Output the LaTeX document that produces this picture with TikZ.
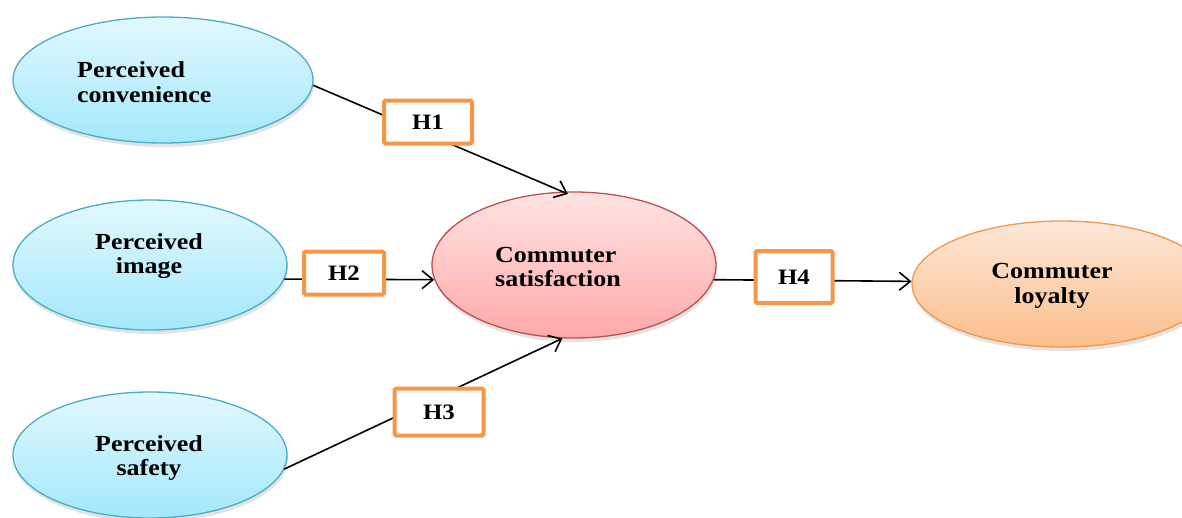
\documentclass[tikz,border=0pt]{standalone}
\usepackage{fontspec}
\setmainfont{Liberation Serif}[FakeStretch=1.13]
\usetikzlibrary{shadows,arrows.meta,shapes.geometric}
\definecolor{bluetop}{HTML}{E2F8FE}
\definecolor{bluebot}{HTML}{A3E8FB}
\definecolor{blueline}{HTML}{4BACC6}
\definecolor{redtop}{HTML}{FFE3E3}
\definecolor{redbot}{HTML}{FFA9A9}
\definecolor{redline}{HTML}{C0504D}
\definecolor{orgtop}{HTML}{FDE8D8}
\definecolor{orgbot}{HTML}{FBBF8C}
\definecolor{orgline}{HTML}{F79646}
\tikzset{
  ell/.style={ellipse, inner sep=0pt, line width=1.3pt,
    drop shadow={opacity=0.22, shadow xshift=1pt, shadow yshift=-4pt}},
  blueell/.style={ell, draw=blueline, top color=bluetop, bottom color=bluebot},
  redell/.style={ell, draw=redline, top color=redtop, bottom color=redbot},
  orgell/.style={ell, draw=orgline, top color=orgtop, bottom color=orgbot},
  lbl/.style={font=\bfseries\fontsize{23}{24.5}\selectfont, inner sep=0pt},
  hbox/.style={draw=orgline, line width=4pt, fill=white, rounded corners=1.5pt,
    font=\bfseries\fontsize{22}{24}\selectfont, inner sep=0pt},
  conn/.style={line width=1.6pt, black},
  arr/.style={conn, -{Straight Barb[length=11pt,width=18pt,line width=1.6pt]}},
}
\begin{document}
\begin{tikzpicture}[x=1pt,y=-1pt]
\useasboundingbox (0,0) rectangle (1182,517);
% ellipses
\node[blueell, minimum width=300pt, minimum height=126pt] (conv) at (163,80) {};
\node[blueell, minimum width=274pt, minimum height=130pt] (img) at (150,265) {};
\node[blueell, minimum width=274pt, minimum height=126pt] (safe) at (150,455) {};
\node[redell, minimum width=284pt, minimum height=146pt] (sat) at (574,265) {};
\node[orgell, minimum width=300pt, minimum height=126pt] (loy) at (1062,284) {};
% texts
\node[lbl, align=left, anchor=west] (tconv) at (77,82) {Perceived\\convenience};
\node[lbl, align=center] (timg) at (149,256) {Perceived\\image};
\node[lbl, align=center] (tsafe) at (149,458) {Perceived\\safety};
\node[lbl, align=left, anchor=west] (tsat) at (495,267) {Commuter\\satisfaction};
\node[lbl, align=center] (tloy) at (1052,286) {Commuter\\loyalty};
% connectors
\draw[arr, shorten >=-6pt] (conv.-2) -- (sat.99.6);
\draw[arr] (img.-6.7) -- (sat.186.4);
\draw[arr] (safe.-6.3) -- (sat.261.4);
\draw[arr] (sat.-6) -- (loy.179);
% hypothesis boxes
\node[hbox, minimum width=88pt, minimum height=43pt] (h1) at (428,122) {H1};
\node[hbox, minimum width=80pt, minimum height=43pt] (h2) at (344,273) {H2};
\node[hbox, minimum width=89pt, minimum height=47pt] (h3) at (439,412) {H3};
\node[hbox, minimum width=77pt, minimum height=52pt] (h4) at (794,277) {H4};
\end{tikzpicture}
\end{document}
